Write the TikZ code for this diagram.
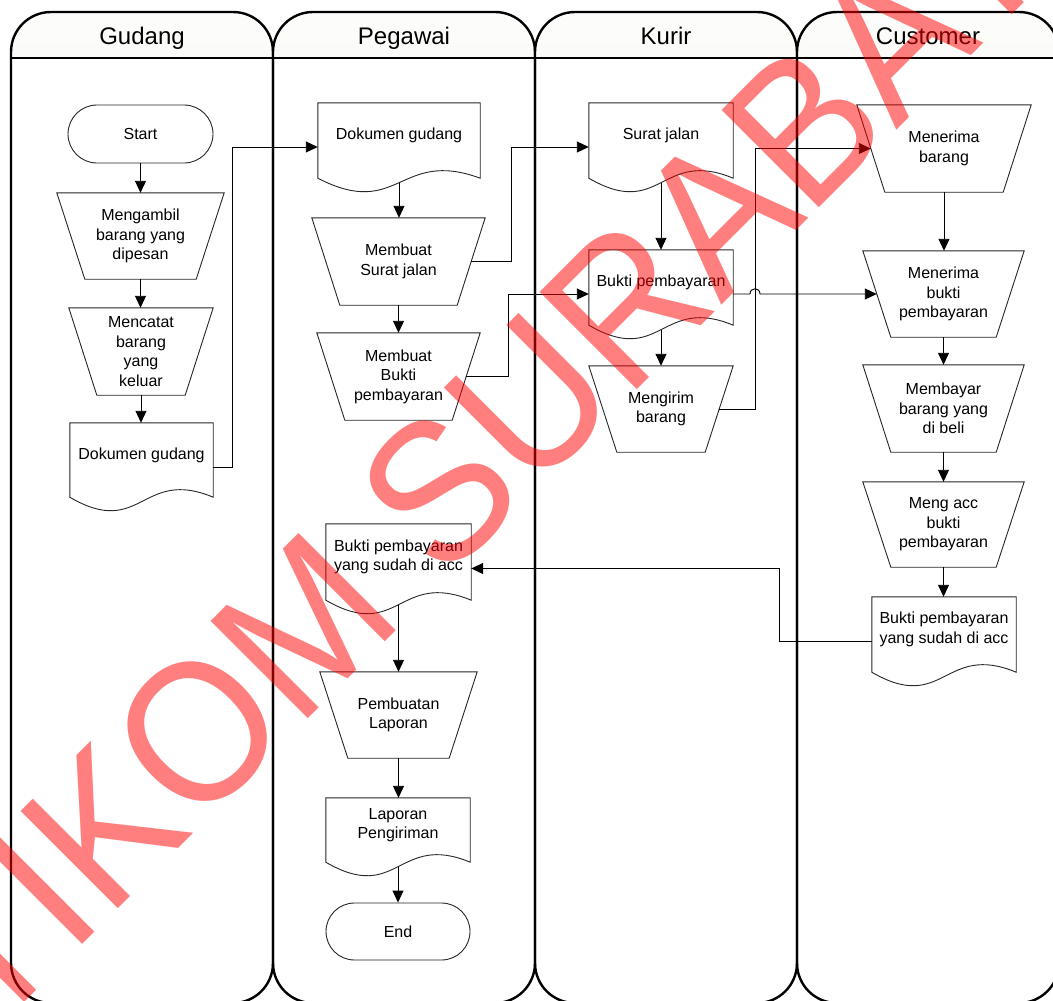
\documentclass[tikz,border=0pt]{standalone}
\usepackage{fontspec}
\setmainfont{Liberation Sans}
\usetikzlibrary{arrows.meta,calc}
\definecolor{hdrtop}{RGB}{252,252,250}
\definecolor{hdrbot}{RGB}{236,238,228}
\begin{document}
\begin{tikzpicture}[x=1pt,y=-1pt,
  lane/.style={draw=black,line width=2.4pt,rounded corners=40pt},
  hdr/.style={font=\fontsize{24}{28}\selectfont,inner sep=0pt,anchor=base},
  box/.style={rectangle,inner sep=0pt,align=center,font=\fontsize{16}{19.4}\selectfont},
  term/.style={box,draw=black!85,line width=0.9pt},
  shp/.style={draw=black!85,line width=0.9pt},
  arr/.style={draw=black,line width=0.9pt,-{Triangle[length=12pt,width=11pt]}}]
\useasboundingbox (0,0) rectangle (1053,1001);
\begin{scope}
\clip (0,0) rectangle (1053,1001);
% swimlanes
\foreach \xa/\xb/\nm/\lb in {11/273/lg/Gudang,273/535/lp/Pegawai,535/797/lk/Kurir,797/1059/lc/Customer}{
  \begin{scope}
    \clip (\xa-5,0) rectangle (\xb+5,58);
    \shade[top color=hdrtop,bottom color=hdrbot,rounded corners=40pt] (\xa,12) rectangle (\xb,1003);
  \end{scope}
  \draw[lane] (\xa,12) rectangle (\xb,1003);
  \draw[line width=2.4pt] (\xa,58) -- (\xb,58);
  \node[hdr] (\nm) at ({(\xa+\xb)/2},44) {\lb};
}
% Gudang
\node[term,minimum width=145pt,minimum height=58pt,rounded corners=29pt] (start) at (140.5,134) {Start};
\node[box,minimum width=167pt,minimum height=86pt] (gT1) at (140.5,236) {Mengambil\\barang yang\\dipesan};
\node[box,minimum width=144pt,minimum height=87pt] (gT2) at (141,351.5) {Mencatat\\barang\\yang\\keluar};
\node[box,minimum width=143pt,minimum height=64pt] (gdoc) at (141.5,455) {Dokumen gudang};
% Pegawai
\node[box,minimum width=162pt,minimum height=65pt] (pdoc1) at (399,135.5) {Dokumen gudang};
\node[box,minimum width=173pt,minimum height=87pt] (pT1) at (398.5,261.5) {Membuat\\Surat jalan};
\node[box,minimum width=163pt,minimum height=87pt] (pT2) at (398.5,376.5) {Membuat\\Bukti\\pembayaran};
\node[box,minimum width=145pt,minimum height=66pt] (pdoc2) at (398.5,557) {Bukti pembayaran\\yang sudah di acc};
\node[box,minimum width=157pt,minimum height=86pt] (pT3) at (398.5,715) {Pembuatan\\Laporan};
\node[box,minimum width=144pt,minimum height=54pt] (pdoc3) at (398,825) {Laporan\\Pengiriman};
\node[term,minimum width=144pt,minimum height=57pt,rounded corners=28.5pt] (endn) at (398,931.5) {End};
% Kurir
\node[box,minimum width=144pt,minimum height=65pt] (kdoc1) at (661,135.5) {Surat jalan};
\node[box,minimum width=144pt,minimum height=65pt] (kdoc2) at (661,282.5) {Bukti pembayaran};
\node[box,minimum width=144pt,minimum height=86pt] (kT) at (661,409) {Mengirim\\barang};
% Customer
\node[box,minimum width=174pt,minimum height=87pt] (cT1) at (944,148.5) {Menerima\\barang};
\node[box,minimum width=161pt,minimum height=86pt] (cT2) at (943.5,294) {Menerima\\bukti\\pembayaran};
\node[box,minimum width=161pt,minimum height=87pt] (cT3) at (943.5,408.5) {Membayar\\barang yang\\di beli};
\node[box,minimum width=161pt,minimum height=85pt] (cT4) at (943.5,524.5) {Meng acc\\bukti\\pembayaran};
\node[box,minimum width=144pt,minimum height=65pt] (cdoc) at (944,629.5) {Bukti pembayaran\\yang sudah di acc};
% document outlines
\foreach \n in {gdoc,pdoc1,pdoc2,pdoc3,kdoc1,kdoc2,cdoc}
  \draw[shp] ($(\n.south west)+(0,10)$) -- (\n.north west) -- (\n.north east) -- ($(\n.south east)+(0,10)$)
    .. controls ($(\n.south)+(0,-20)$) and ($(\n.south)+(0,52)$) .. ($(\n.south west)+(0,10)$) -- cycle;
% manual operation outlines
\foreach \n in {gT1,gT2,pT1,pT2,pT3,kT,cT1,cT2,cT3,cT4}
  \draw[shp] (\n.north west) -- (\n.north east) -- ($(\n.south east)+(-28,0)$) -- ($(\n.south west)+(28,0)$) -- cycle;
% vertical flow
\draw[arr] (start.south) -- (start.south |- gT1.north);
\draw[arr] (gT1.south) -- (gT1.south |- gT2.north);
\draw[arr] (gT2.south) -- (gT2.south |- gdoc.north);
\draw[arr] ($(pdoc1.south)+(0,14.5)$) -- (pdoc1.south |- pT1.north);
\draw[arr] (pT1.south) -- (pT1.south |- pT2.north);
\draw[arr] ($(kdoc1.south)+(0,14.5)$) -- (kdoc1.south |- kdoc2.north);
\draw[arr] ($(kdoc2.south)+(0,14.5)$) -- (kdoc2.south |- kT.north);
\draw[arr] (cT1.south) -- (cT1.south |- cT2.north);
\draw[arr] (cT2.south) -- (cT2.south |- cT3.north);
\draw[arr] (cT3.south) -- (cT3.south |- cT4.north);
\draw[arr] (cT4.south) -- (cT4.south |- cdoc.north);
\draw[arr] ($(pdoc2.south)+(0,14.5)$) -- (pdoc2.south |- pT3.north);
\draw[arr] (pT3.south) -- (pT3.south |- pdoc3.north);
\draw[arr] ($(pdoc3.south)+(0,14.5)$) -- (pdoc3.south |- endn.north);
% cross-lane connectors
\draw[arr] ($(gdoc.east)+(0,12)$) -| (232,147) -- ($(pdoc1.west)+(0,11.5)$);
\draw[arr] ($(pT1.east)+(-14,0)$) -| (511,147) -- ($(kdoc1.west)+(0,11.5)$);
\draw[arr] ($(pT2.east)+(-14,0)$) -| (508,294) -- ($(kdoc2.west)+(0,11.5)$);
\draw[arr] ($(kdoc2.east)+(0,11.5)$) -- (750,294) .. controls (750,287) and (760,287) .. (760,294) -- ($(cT2.west)+(14,0)$);
\draw[arr] ($(kT.east)+(-14,0)$) -| (755,148.5) -- ($(cT1.west)+(14,0)$);
\draw[arr] ($(cdoc.west)+(0,11.5)$) -| (779,568.5) -- ($(pdoc2.east)+(0,11.5)$);
% watermark
\node[anchor=base west,rotate=45,xscale=0.93,text=red,text opacity=0.5,inner sep=0pt,font=\fontsize{200}{200}\selectfont] (wm) at (-97.4,1124.4) {STIKOM SURABAYA};
\end{scope}
\end{tikzpicture}
\end{document}
